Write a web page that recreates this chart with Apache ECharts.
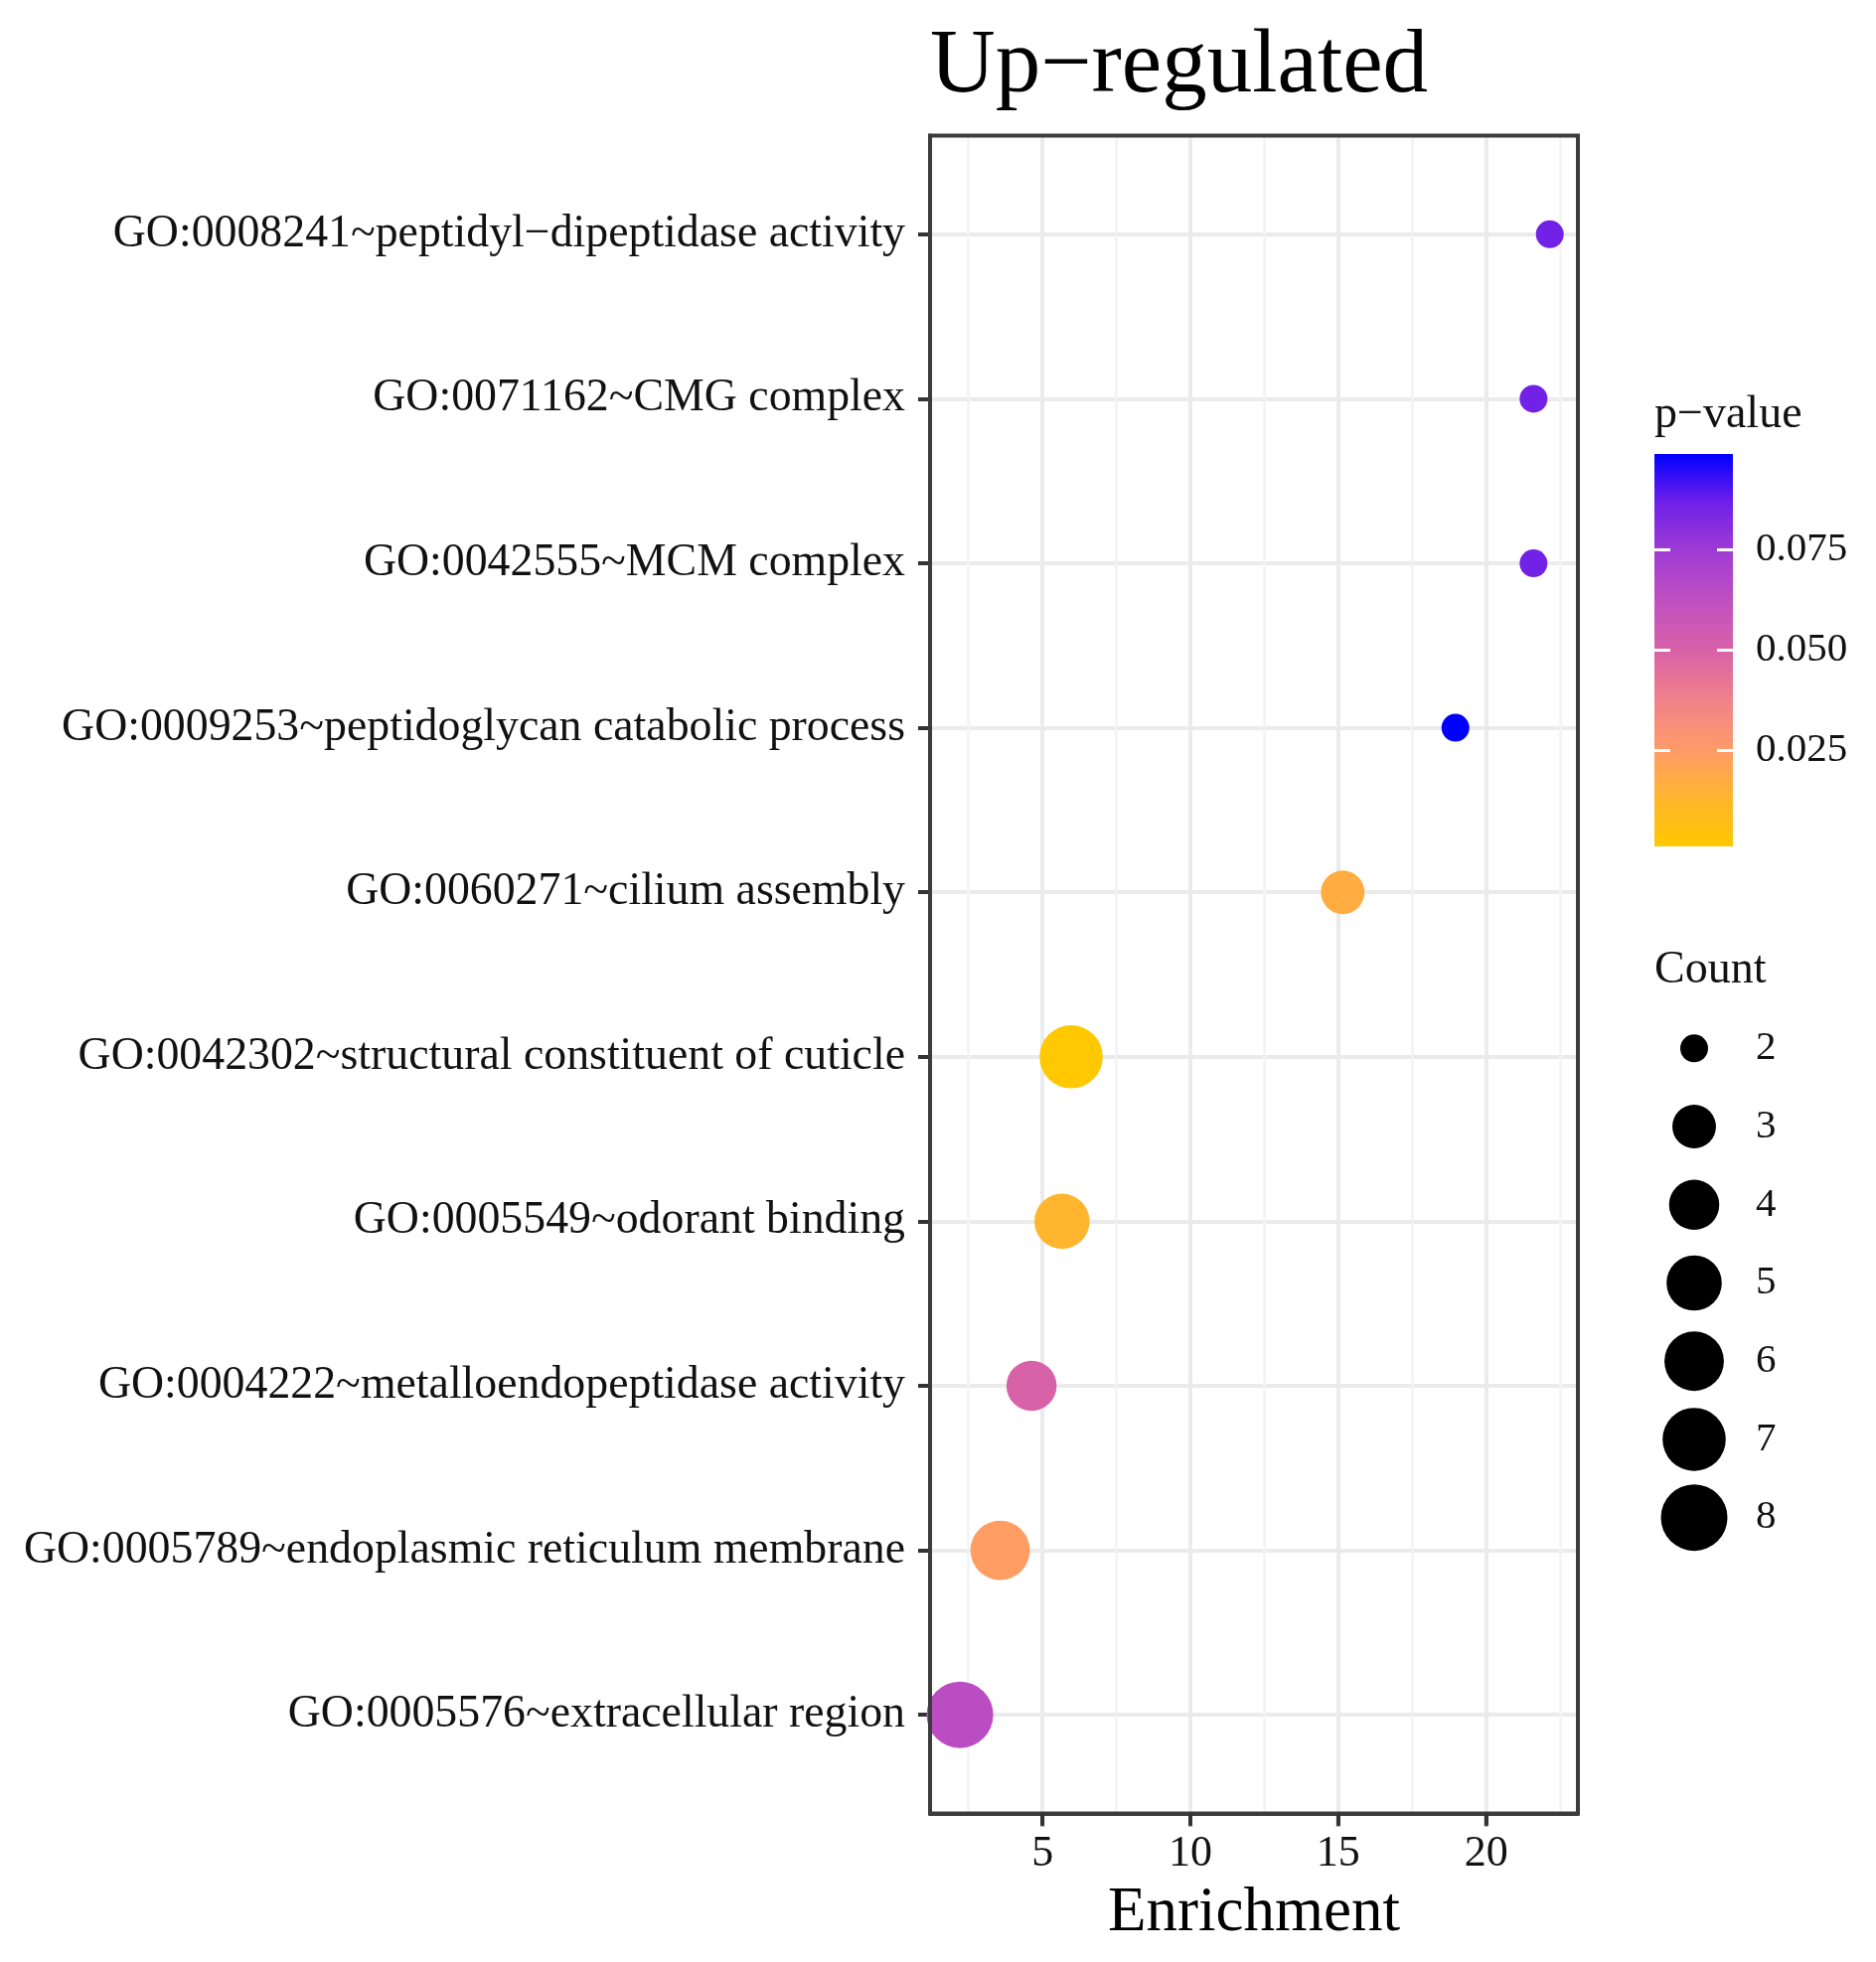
<!DOCTYPE html>
<html><head><meta charset="utf-8">
<script src="https://cdn.jsdelivr.net/npm/echarts@6/dist/echarts.min.js"></script>
<style>html,body{margin:0;padding:0;background:#fff}#c{width:1888px;height:1975px}</style>
</head><body><div id="c"></div>
<script>
// ---- data ----
const categories = [
  'GO:0008241~peptidyl\u2212dipeptidase activity',
  'GO:0071162~CMG complex',
  'GO:0042555~MCM complex',
  'GO:0009253~peptidoglycan catabolic process',
  'GO:0060271~cilium assembly',
  'GO:0042302~structural constituent of cuticle',
  'GO:0005549~odorant binding',
  'GO:0004222~metalloendopeptidase activity',
  'GO:0005789~endoplasmic reticulum membrane',
  'GO:0005576~extracellular region'
];
const enrichment = [22.15, 21.6, 21.6, 18.96, 15.15, 5.97, 5.66, 4.63, 3.57, 2.21];
const counts = [2, 2, 2, 2, 3, 7, 5, 4, 6, 8];
const pvalues = [0.086, 0.086, 0.086, 0.0988, 0.017, 0.001, 0.013, 0.050, 0.024, 0.064];
const xTicks = [5, 10, 15, 20];
const pTicks = [0.025, 0.050, 0.075];
const countLevels = [2, 3, 4, 5, 6, 7, 8];

// ---- style helpers ----
const FONT = 'Liberation Serif';
// colour ramp (low p -> high p), sampled from the reference colour bar
const gradColors = ['#FFC800', '#FFB52E', '#FF9A6A', '#F0808A', '#D862A8', '#C050C0', '#A03CD4', '#7020E8', '#0000FF'];
const NSTOP = gradColors.length - 1;
const cMin = Math.min(...counts), cMax = Math.max(...counts);
function sizeFor(c){ return 28 + 39 * Math.sqrt((c - cMin) / (cMax - cMin)); }
const pMin = Math.min(...pvalues), pMax = Math.max(...pvalues);
const rowIdx = categories.map((_, i) => i);
const X_MIN = 1.2, X_MAX = 23.1, Y_MIN = -0.6, Y_MAX = categories.length - 1 + 0.6;
const TICK_LEN = 12;

const chart = echarts.init(document.getElementById('c'), null, {renderer:'canvas'});
const txt = {fontFamily:FONT, color:'#111'};
chart.setOption({
  backgroundColor:'#fff',
  animation:false,
  textStyle:{fontFamily:FONT},
  title:[
    {text:'Up\u2212regulated',left:936,top:23,padding:0,textStyle:{fontSize:91,fontWeight:'normal',fontFamily:FONT,color:'#000'}},
    {text:'p\u2212value',left:1665,top:395,padding:0,textStyle:{fontSize:46,fontWeight:'normal',fontFamily:FONT,color:'#111'}},
    {text:'Count',left:1665,top:954,padding:0,textStyle:{fontSize:46,fontWeight:'normal',fontFamily:FONT,color:'#111'}}
  ],
  grid:[
    {left:936,top:136.5,width:652,height:1689,show:true,borderColor:'#3c3c3c',borderWidth:4,backgroundColor:'transparent',z:3},
    {left:1665,top:457,width:79,height:395,show:false},
    {left:1665,top:1016,width:80,height:551,show:false}
  ],
  visualMap:[{type:'continuous',show:false,seriesIndex:0,dimension:3,min:pMin,max:pMax,inRange:{color:gradColors}}],
  xAxis:[
    {type:'value',gridIndex:0,min:X_MIN,max:X_MAX,position:'bottom',z:4,
     axisLine:{show:true,onZero:false,lineStyle:{color:'#3c3c3c',width:4}},
     axisTick:{show:true,inside:false,customValues:xTicks,length:TICK_LEN,lineStyle:{color:'#333',width:4}},
     axisLabel:{customValues:xTicks,fontSize:44,margin:19,...txt},
     splitLine:{show:false},
     name:'Enrichment',nameLocation:'middle',nameGap:69,nameTextStyle:{fontSize:63,fontFamily:FONT,color:'#000'}},
    {type:'category',gridIndex:1,data:[''],show:false},
    {type:'value',gridIndex:2,min:-1,max:1,show:false},
    // vertical grid lines (major + minor) only
    {type:'value',gridIndex:0,min:X_MIN,max:X_MAX,position:'top',z:0,
     axisLine:{show:false,onZero:false},axisTick:{show:false},axisLabel:{show:false},
     splitLine:{show:true,lineStyle:{color:'#EBEBEB',width:4}},
     minorTick:{show:false,splitNumber:2},
     minorSplitLine:{show:true,lineStyle:{color:'#F3F3F3',width:2.5}}}
  ],
  yAxis:[
    {type:'value',gridIndex:0,min:Y_MIN,max:Y_MAX,inverse:true,minInterval:1,maxInterval:1,
     axisLine:{show:true,onZero:false,lineStyle:{color:'#3c3c3c',width:4}},
     axisTick:{show:true,customValues:rowIdx,length:TICK_LEN,lineStyle:{color:'#333',width:4}},
     axisLabel:{customValues:rowIdx,formatter:v=>categories[Math.round(v)],fontSize:45.8,margin:25,...txt},
     splitLine:{show:true,lineStyle:{color:'#EBEBEB',width:4}}},
    {type:'value',gridIndex:1,min:pMin,max:pMax,position:'right',z:5,
     axisLine:{show:false,onZero:false},
     axisTick:{show:true,inside:true,customValues:pTicks,length:16,lineStyle:{color:'#fff',width:3}},
     axisLabel:{customValues:pTicks,formatter:v=>v.toFixed(3),fontSize:41,margin:23,...txt},
     splitLine:{show:false}},
    {type:'value',gridIndex:1,min:pMin,max:pMax,position:'left',z:5,
     axisLine:{show:false,onZero:false},
     axisTick:{show:true,inside:true,customValues:pTicks,length:16,lineStyle:{color:'#fff',width:3}},
     axisLabel:{show:false},splitLine:{show:false}},
    {type:'category',gridIndex:2,data:countLevels.map(String),inverse:true,position:'right',
     axisLine:{show:false,onZero:false},axisTick:{show:false},
     axisLabel:{fontSize:41,margin:22,...txt},splitLine:{show:false}}
  ],
  series:[
    {type:'scatter',xAxisIndex:0,yAxisIndex:0,clip:true,
     data:enrichment.map((x,i)=>[x,i,counts[i],pvalues[i]]),
     symbol:'circle',symbolSize:d=>sizeFor(d[2]),itemStyle:{opacity:1}},
    {type:'bar',xAxisIndex:1,yAxisIndex:1,barWidth:'100%',data:[pMax],silent:true,
     itemStyle:{color:new echarts.graphic.LinearGradient(0,1,0,0,gradColors.map((c,i)=>({offset:i/NSTOP,color:c})))}},
    {type:'scatter',xAxisIndex:2,yAxisIndex:3,
     data:countLevels.map((c,i)=>[0,i,c]),
     symbol:'circle',symbolSize:d=>sizeFor(d[2]),itemStyle:{color:'#000',opacity:1}},
    // x-axis tick marks placed on the x scale at the panel's lower edge
    {type:'scatter',xAxisIndex:0,yAxisIndex:0,clip:false,silent:true,z:6,
     data:xTicks.map(v=>[v,Y_MAX]),
     symbol:'rect',symbolSize:[4,TICK_LEN],symbolOffset:[0,TICK_LEN/2+1],
     itemStyle:{color:'#333'}}
  ]
});
</script></body></html>
